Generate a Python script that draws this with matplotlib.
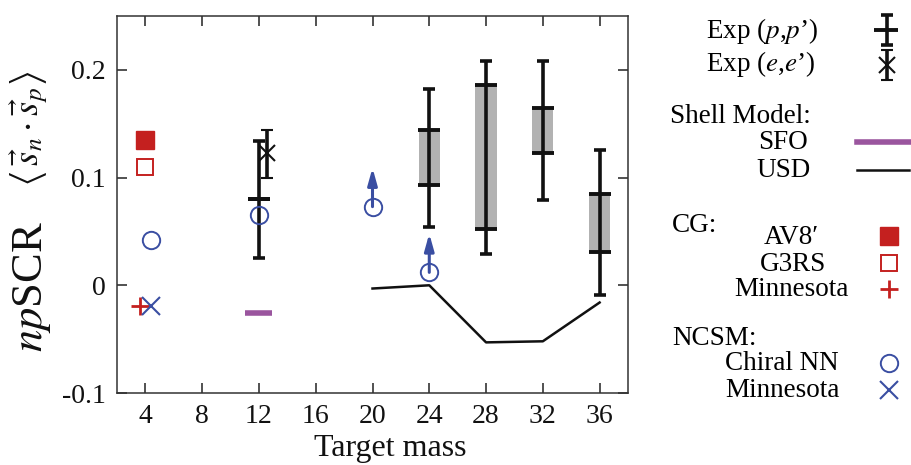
import matplotlib
matplotlib.use("Agg")
import matplotlib.pyplot as plt
import numpy as np

plt.rcParams['font.family'] = ['Liberation Serif', 'DejaVu Serif']
plt.rcParams['mathtext.fontset'] = 'stix'

# ---- data ----
# Exp (p,p'): range of the extraction (grey box) and the full error bar
pp_mass = np.array([12, 24, 28, 32, 36])
pp_box_lo = np.array([0.080, 0.093, 0.052, 0.123, 0.031])
pp_box_hi = np.array([0.080, 0.144, 0.186, 0.165, 0.085])
pp_err_lo = np.array([0.025, 0.054, 0.029, 0.079, -0.009])
pp_err_hi = np.array([0.134, 0.182, 0.208, 0.208, 0.126])

# Exp (e,e')
ee_mass = np.array([12.6])
ee_val = np.array([0.123])
ee_lo = np.array([0.100])
ee_hi = np.array([0.144])

# Shell model
sfo_mass = np.array([12])
sfo_val = np.array([-0.026])
usd_mass = np.array([20, 24, 28, 32, 36])
usd_val = np.array([-0.003, 0.000, -0.053, -0.052, -0.016])

# CG
av8_mass, av8_val = [4], [0.135]
g3rs_mass, g3rs_val = [4], [0.110]
cgmin_mass, cgmin_val = [3.6], [-0.019]

# NCSM
chiral_mass = np.array([4.4, 12, 20, 24])
chiral_val = np.array([0.042, 0.065, 0.073, 0.012])
chiral_lower_limit = np.array([False, False, True, True])
arrow_len = 0.036
ncsm_min_mass, ncsm_min_val = [4.4], [-0.019]

x_ticks = [4, 8, 12, 16, 20, 24, 28, 32, 36]
y_ticks = [-0.1, 0, 0.1, 0.2]
y_ticklabels = ['-0.1', '0', '0.1', '0.2']

# ---- colours ----
red = '#C4201F'
blue = '#3A4EA2'
purple = '#9A559E'
grey = '#B2B2B2'
black = '#111111'

W, H = 911, 465
fig = plt.figure(figsize=(W / 100, H / 100), dpi=100)
ax = fig.add_axes([117 / W, 1 - 393 / H, 511 / W, 377 / H])

# experimental (p,p')
ax.bar(pp_mass, pp_box_hi - pp_box_lo, bottom=pp_box_lo, width=1.5,
       color=grey, zorder=1)
ax.hlines(pp_box_lo, pp_mass - 0.78, pp_mass + 0.78, color=black, lw=2.8, zorder=3)
ax.hlines(pp_box_hi, pp_mass - 0.78, pp_mass + 0.78, color=black, lw=2.8, zorder=3)
pp_mid = (pp_box_lo + pp_box_hi) / 2
ax.errorbar(pp_mass, pp_mid, yerr=[pp_mid - pp_err_lo, pp_err_hi - pp_mid],
            fmt='none', ecolor=black, elinewidth=2.6, capsize=4, capthick=2.6,
            zorder=3)

# experimental (e,e')
ax.errorbar(ee_mass, ee_val, yerr=[ee_val - ee_lo, ee_hi - ee_val],
            fmt='x', color=black, ms=11, mew=1.5, elinewidth=2.6, capsize=4,
            capthick=2.6, zorder=3)

# shell model
ax.hlines(sfo_val, sfo_mass - 0.95, sfo_mass + 0.95, color=purple, lw=4, zorder=2)
ax.plot(usd_mass, usd_val, color=black, lw=1.8, zorder=2)

# CG
ax.plot(av8_mass, av8_val, 's', color=red, ms=12.5, zorder=4)
ax.plot(g3rs_mass, g3rs_val, 's', mfc='white', mec=red, mew=1.4, ms=12, zorder=4)
ax.plot(cgmin_mass, cgmin_val, '+', color=red, ms=13, mew=2, zorder=4)

# NCSM
ax.plot(chiral_mass, chiral_val, 'o', mfc='none', mec=blue, mew=1.4, ms=12.5, zorder=4)
for m, v in zip(chiral_mass[chiral_lower_limit], chiral_val[chiral_lower_limit]):
    ax.annotate('', xy=(m, v + arrow_len), xytext=(m, v),
                arrowprops=dict(arrowstyle='-|>,head_length=1.0,head_width=0.28',
                                color=blue, lw=2.2, shrinkA=0, shrinkB=0),
                zorder=4)
ax.plot(ncsm_min_mass, ncsm_min_val, 'x', color=blue, ms=13, mew=1.5, zorder=4)

ax.set_xlim(2, 38)
ax.set_ylim(-0.1, 0.25)
ax.set_xticks(x_ticks)
ax.set_yticks(y_ticks)
ax.set_yticklabels(y_ticklabels)
ax.tick_params(direction='in', length=7, width=1.1, labelsize=20, pad=8,
               top=True, right=True, colors='#222222', labelcolor=black)
for s in ax.spines.values():
    s.set_linewidth(1.1)
    s.set_color('#333333')

# axis labels
fig.text(390 / W, 1 - 456 / H, 'Target mass', fontsize=23, ha='center',
         va='baseline', color=black)
fig.text(32 / W, 1 - 287 / H, r'$np$SCR', fontsize=32, rotation=90,
         ha='center', va='center', color=black)
fig.text(30 / W, 1 - 129 / H,
         r'$\left\langle\, \vec{s}_n \cdot \vec{s}_p \right\rangle$',
         fontsize=26, rotation=90, ha='center', va='center', color=black)

# ---- legend drawn in pixel coordinates ----
lax = fig.add_axes([660 / W, 0, 251 / W, 1])
lax.set_xlim(660, 911)
lax.set_ylim(465, 0)
lax.axis('off')
fs = 19.5
sx = 887

lax.text(706, 31, "Exp ($p$,$p$\u2019)", fontsize=fs, ha='left', va='center')
lax.errorbar([sx], [30], yerr=[[15], [15]], fmt='none', ecolor=black,
             elinewidth=2.6, capsize=4, capthick=2.6, clip_on=False)
lax.hlines(30, 874, 898, color=black, lw=2.8)
lax.text(706, 64, "Exp ($e$,$e$\u2019)", fontsize=fs, ha='left', va='center')
lax.errorbar([sx], [65], yerr=[[15], [15]], fmt='x', color=black, ms=11, mew=1.5,
             elinewidth=2.6, capsize=4, capthick=2.6, clip_on=False)

lax.text(670, 116, 'Shell Model:', fontsize=fs, ha='left', va='center')
lax.text(783, 142, 'SFO', fontsize=fs, ha='center', va='center')
lax.plot([857, 909], [142, 142], color=purple, lw=4, clip_on=False)
lax.text(784, 170, 'USD', fontsize=fs, ha='center', va='center')
lax.plot([857, 909], [170, 170], color=black, lw=1.8, clip_on=False)

lax.text(672, 225, 'CG:', fontsize=fs, ha='left', va='center')
lax.text(791, 237, 'AV8\u2032', fontsize=fs, ha='center', va='center')
lax.plot([889], [236], 's', color=red, ms=12.5)
lax.text(793, 264, 'G3RS', fontsize=fs, ha='center', va='center')
lax.plot([889], [263], 's', mfc='white', mec=red, mew=1.4, ms=12)
lax.text(791, 289, 'Minnesota', fontsize=fs, ha='center', va='center')
lax.plot([889], [289], '+', color=red, ms=13, mew=2)

lax.text(672, 338, 'NCSM:', fontsize=fs, ha='left', va='center')
lax.text(782, 363, 'Chiral NN', fontsize=fs, ha='center', va='center')
lax.plot([889], [363], 'o', mfc='none', mec=blue, mew=1.4, ms=12.5)
lax.text(782, 390, 'Minnesota', fontsize=fs, ha='center', va='center')
lax.plot([889], [390], 'x', color=blue, ms=13, mew=1.5)

fig.savefig('out.png', dpi=100)
